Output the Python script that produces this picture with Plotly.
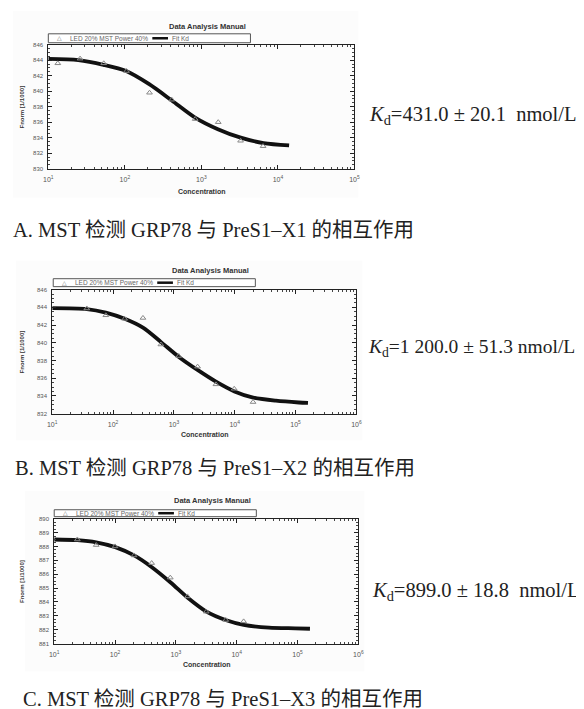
import plotly.graph_objects as go

W, H = 584, 709

# ---------------- data ----------------
conc_pts_1 = [13.3, 26, 53, 105, 210, 410, 830, 1660, 3250, 6400]
fnorm_pts_1 = [843.6, 844.2, 843.6, 842.6, 839.8, 838.9, 836.4, 836.0, 833.6, 832.9]
conc_fit_1 = [10, 24.7, 52.6, 104, 208, 411, 826, 1643, 3265, 6500, 14000]
fnorm_fit_1 = [844.16, 844.0, 843.4, 842.6, 840.9, 838.8, 836.6, 835.1, 834.0, 833.3, 833.0]

conc_pts_2 = [37, 76, 155, 310, 610, 1200, 2450, 4900, 9800, 20000]
fnorm_pts_2 = [843.87, 843.1, 842.7, 842.8, 839.8, 838.5, 837.3, 835.3, 834.8, 833.3]
conc_fit_2 = [10, 37, 76, 155, 310, 608, 1205, 2480, 4920, 9890, 20100, 47400, 113000, 160000]
fnorm_fit_2 = [843.9, 843.8, 843.4, 842.7, 841.7, 840.1, 838.4, 836.9, 835.6, 834.5, 833.8, 833.45, 833.25, 833.2]

conc_pts_3 = [24, 49, 100, 205, 400, 810, 1550, 3150, 6600, 13000]
fnorm_pts_3 = [888.5, 888.1, 888.0, 887.35, 886.8, 885.75, 884.4, 883.3, 882.7, 882.6]
conc_fit_3 = [10, 23.9, 49, 101, 206, 403, 820, 1567, 3185, 6550, 13000, 33900, 91700, 160000]
fnorm_fit_3 = [888.5, 888.45, 888.3, 887.95, 887.35, 886.5, 885.4, 884.3, 883.3, 882.7, 882.35, 882.15, 882.1, 882.07]

kd_texts = ["<i>K</i><sub>d</sub>=431.0 ± 20.1  nmol/L",
            "<i>K</i><sub>d</sub>=1 200.0 ± 51.3 nmol/L",
            "<i>K</i><sub>d</sub>=899.0 ± 18.8  nmol/L"]
captions = ["A. MST 检测 GRP78 与 PreS1–X1 的相互作用",
            "B. MST 检测 GRP78 与 PreS1–X2 的相互作用",
            "C. MST 检测 GRP78 与 PreS1–X3 的相互作用"]
chart_title = "Data Analysis Manual"
legend_pts = "LED 20% MST Power 40%"
legend_fit = "Fit Kd"
x_title = "Concentration"
y_title = "Fnorm [1/1000]"

y_ranges = [[830, 846], [832, 846], [881, 890]]
y_dticks = [2, 2, 1]
x_decades = [[1, 2, 3, 4, 5], [1, 2, 3, 4, 5, 6], [1, 2, 3, 4, 5, 6]]

# ---------------- layout geometry (pixels) ----------------
panels = [
    dict(x0=36, x1=348, y0=34, y1=159, title_y=16, leg=(36, 242, 23, 32), xt_y=182,
         kd=(361, 105, 20.5), cap=(-2, 221), bg=(0, 0, 352, 188)),
    dict(x0=40, x1=350, y0=281, y1=406, title_y=262, leg=(41, 247, 270, 278), xt_y=427,
         kd=(360, 340, 19.5), cap=(0, 461), bg=(3, 252, 356, 433)),
    dict(x0=42, x1=352, y0=512, y1=638, title_y=494, leg=(42, 248, 503, 510), xt_y=659,
         kd=(364, 585, 20.5), cap=(8, 694), bg=(12, 484, 358, 666)),
]

def px(x):
    return x / W

def py(y):
    return 1 - y / H

SANS = "Liberation Sans, Arial, sans-serif"
SERIF = "Liberation Serif, Times New Roman, Noto Sans CJK SC, serif"

fig = go.Figure()
pts = [(conc_pts_1, fnorm_pts_1), (conc_pts_2, fnorm_pts_2), (conc_pts_3, fnorm_pts_3)]
fits = [(conc_fit_1, fnorm_fit_1), (conc_fit_2, fnorm_fit_2), (conc_fit_3, fnorm_fit_3)]

annotations = []
shapes = []
layout_axes = {}


def ann(text, x, y, size, family=SANS, color="#333", xanchor="center", **kw):
    annotations.append(dict(text=text, x=px(x), y=py(y), xref="paper", yref="paper",
                            xanchor=xanchor, yanchor="middle", showarrow=False,
                            font=dict(family=family, size=size, color=color), **kw))


for i, p in enumerate(panels):
    n = "" if i == 0 else str(i + 1)
    xa, ya = "x" + n, "y" + n
    bx0, by0, bx1, by1 = p["bg"]
    shapes.append(dict(type="rect", xref="paper", yref="paper", layer="below",
                       x0=px(bx0), x1=px(bx1), y0=py(by1), y1=py(by0),
                       fillcolor="#fcfcfc", line=dict(width=0)))
    fig.add_trace(go.Scatter(x=fits[i][0], y=fits[i][1], mode="lines", name=legend_fit,
                             line=dict(color="#111", width=3.8, shape="spline", smoothing=0.8),
                             xaxis=xa, yaxis=ya, showlegend=False))
    fig.add_trace(go.Scatter(x=pts[i][0], y=pts[i][1], mode="markers", name=legend_pts,
                             marker=dict(symbol="triangle-up-open", size=5, color="#888",
                                         line=dict(width=1)),
                             xaxis=xa, yaxis=ya, showlegend=False))
    decs = x_decades[i]
    minor_vals = [m * 10 ** d for d in decs[:-1] for m in range(2, 10)]
    layout_axes["xaxis" + n] = dict(
        type="log", domain=[px(p["x0"]), px(p["x1"])], range=[decs[0], decs[-1]],
        anchor=ya, showline=True, linecolor="#222", linewidth=1, mirror="ticks",
        ticks="inside", ticklen=4, tickcolor="#222", ticklabelstandoff=4,
        tickmode="array", tickvals=[10 ** d for d in decs],
        ticktext=["10<sup>%d</sup>" % d for d in decs],
        tickfont=dict(family=SANS, size=7, color="#555"),
        minor=dict(tickmode="array", tickvals=minor_vals, ticks="inside", ticklen=2,
                   tickcolor="#444"),
        showgrid=False, zeroline=False)
    layout_axes["yaxis" + n] = dict(
        domain=[py(p["y1"]), py(p["y0"])], range=y_ranges[i], anchor=xa,
        showline=True, linecolor="#222", linewidth=1, mirror="ticks",
        ticks="inside", ticklen=4, tickcolor="#222", dtick=y_dticks[i],
        ticklabelstandoff=3,
        tickfont=dict(family=SANS, size=6, color="#555"),
        minor=dict(dtick=y_dticks[i] / 4, ticks="inside", ticklen=2, tickcolor="#444"),
        showgrid=False, zeroline=False)

    cx = (p["x0"] + p["x1"]) / 2
    ann("<b>%s</b>" % chart_title, cx + 6, p["title_y"], 7.5)
    ann("<b>%s</b>" % x_title, cx, p["xt_y"], 7)
    ann("<b>%s</b>" % y_title, 9, (p["y0"] + p["y1"]) / 2, 6, textangle=-90)
    # legend box
    lx0, lx1, ly0, ly1 = p["leg"]
    lyc = (ly0 + ly1) / 2
    shapes.append(dict(type="rect", xref="paper", yref="paper", x0=px(lx0), x1=px(lx1),
                       y0=py(ly1), y1=py(ly0), line=dict(color="#555", width=1),
                       fillcolor="white"))
    ann("△", lx0 + 11, lyc, 6, color="#666")
    ann(legend_pts, lx0 + 20, lyc, 6.5, color="#666", xanchor="left")
    shapes.append(dict(type="line", xref="paper", yref="paper", x0=px(lx0 + 106),
                       x1=px(lx0 + 122), y0=py(lyc), y1=py(lyc),
                       line=dict(color="#111", width=2.5)))
    ann(legend_fit, lx0 + 124, lyc, 6.5, color="#666", xanchor="left")
    # Kd text
    ann(kd_texts[i], p["kd"][0], p["kd"][1], p["kd"][2], family=SERIF, color="#222",
        xanchor="left")
    # caption
    ann(captions[i], p["cap"][0], p["cap"][1], 20.5, family=SERIF, color="#222",
        xanchor="left")

fig.update_layout(width=W, height=H, margin=dict(l=0, r=0, t=0, b=0),
                  paper_bgcolor="white", plot_bgcolor="white",
                  annotations=annotations, shapes=shapes, showlegend=False,
                  **layout_axes)

fig.write_html("out.html")
